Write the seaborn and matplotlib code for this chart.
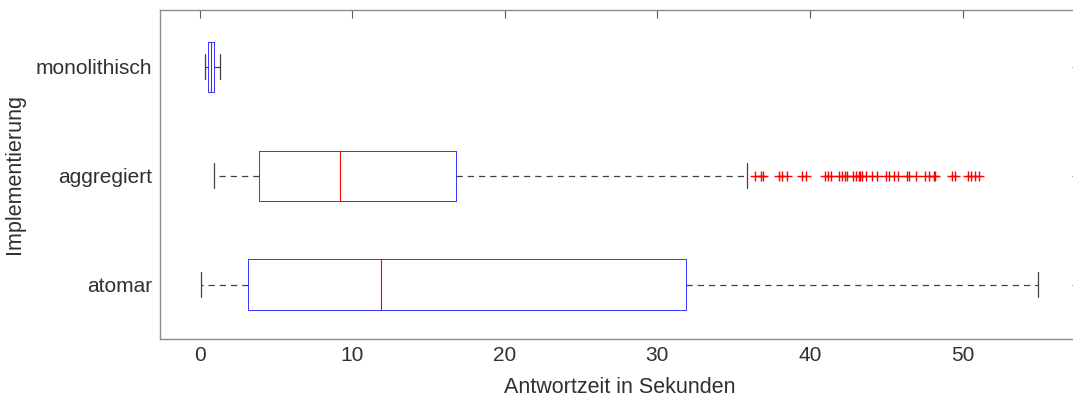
import matplotlib
matplotlib.use('Agg')
import matplotlib.pyplot as plt
import seaborn as sns
import pandas as pd

# Kategorien (von oben nach unten)
implementierungen = ['monolithisch', 'aggregiert', 'atomar']

# Kennwerte je Implementierung: unteres Whisker-Ende, Q1, Median, Q3, oberes Whisker-Ende
werte_monolithisch = [0.37, 0.57, 0.77, 0.92, 1.33]
werte_aggregiert = [0.93, 3.89, 9.19, 16.79, 35.9]
werte_atomar = [0.10, 3.17, 11.88, 31.9, 54.95]

# Ausreisser (nur aggregiert)
ausreisser_aggregiert = [36.37, 36.76, 36.93, 37.96, 38.20, 38.49, 39.45, 39.71,
                         40.98, 41.19, 41.41, 41.89, 42.07, 42.27, 42.40, 42.83,
                         43.05, 43.22, 43.31, 43.40, 43.66, 44.04, 44.38, 44.97,
                         45.17, 45.50, 45.76, 46.33, 46.48, 46.94, 47.55, 47.81,
                         48.10, 48.18, 49.30, 49.52, 50.35, 50.57, 50.83, 51.05]

df = pd.DataFrame({
    'Implementierung': ['monolithisch'] * 5 + ['aggregiert'] * 5 + ['atomar'] * 5,
    'Antwortzeit': werte_monolithisch + werte_aggregiert + werte_atomar,
})
df_aus = pd.DataFrame({
    'Implementierung': ['aggregiert'] * len(ausreisser_aggregiert),
    'Antwortzeit': ausreisser_aggregiert,
})

sns.set_style('white')
plt.rcParams['font.family'] = ['Liberation Sans', 'DejaVu Sans']

fig = plt.figure(figsize=(10.73, 4.0), dpi=100)
ax = fig.add_axes([160 / 1073, 1 - 339 / 400, 920 / 1073, 329 / 400])

sns.boxplot(data=df, x='Antwortzeit', y='Implementierung', order=implementierungen,
            orient='h', fill=False, color='blue', width=0.46, linewidth=0.7,
            whis=1.5, showfliers=False, ax=ax,
            boxprops=dict(color='#3333ff', linewidth=0.7),
            medianprops=dict(color='#ff0000', linewidth=0.8, zorder=5),
            whiskerprops=dict(color='#404040', linewidth=0.9, linestyle=(0, (5, 4))),
            capprops=dict(color='#404040', linewidth=0.9))

sns.stripplot(data=df_aus, x='Antwortzeit', y='Implementierung', order=implementierungen,
              orient='h', jitter=False, marker='+', color='red', size=7, linewidth=1,
              ax=ax)

ax.set_xlim(-2.6, 57.7)
ax.set_ylim(2.5, -0.52)
ax.set_xticks([0, 10, 20, 30, 40, 50])

for s in ax.spines.values():
    s.set_visible(True)
    s.set_color('#8c8c8c')
    s.set_linewidth(1.0)

ax.tick_params(axis='both', direction='in', length=6, width=0.8, color='#5a5a5a',
               labelsize=15, labelcolor='#303030', top=True, right=True)
ax.tick_params(axis='x', pad=5)
ax.tick_params(axis='y', pad=5.5)

ax.set_xlabel('Antwortzeit in Sekunden', fontsize=15.5, color='#303030', labelpad=9)
ax.set_ylabel('Implementierung', fontsize=15.5, color='#303030', labelpad=8)

fig.savefig('out.png', dpi=100)
